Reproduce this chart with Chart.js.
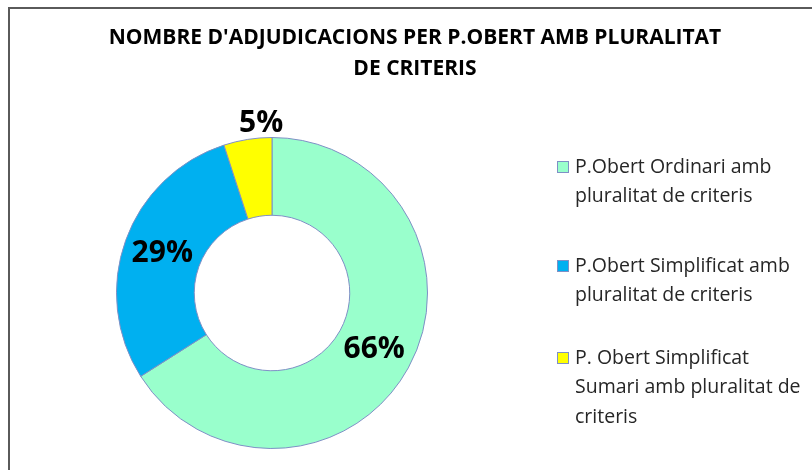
<!DOCTYPE html>
<html>
<head>
<meta charset="utf-8">
<script src="https://cdn.jsdelivr.net/npm/chart.js@4"></script>
<style>
  body { margin: 0; background: #fff; }
  canvas { display: block; }
</style>
</head>
<body>
<canvas id="adjudicacions" width="812" height="470"></canvas>
<script>
// data
const titleLines = ["NOMBRE D'ADJUDICACIONS PER P.OBERT AMB PLURALITAT", 'DE CRITERIS'];
const categories = [
    ['P.Obert Ordinari amb', 'pluralitat de criteris'],
    ['P.Obert Simplificat amb', 'pluralitat de criteris'],
    ['P. Obert Simplificat', 'Sumari amb pluralitat de', 'criteris']
];
const percentages = [66, 29, 5];

// frame, title and legend drawn straight on the canvas
const decorPlugin = {
    id: 'decor',
    beforeDraw(chart) {
        const ctx = chart.ctx;
        ctx.save();
        ctx.fillStyle = '#fff';
        ctx.fillRect(0, 0, chart.width, chart.height);
        ctx.strokeStyle = '#5a5a5a';
        ctx.lineWidth = 2;
        ctx.beginPath();
        ctx.moveTo(9, chart.height);
        ctx.lineTo(9, 8);
        ctx.lineTo(chart.width, 8);
        ctx.stroke();

        ctx.fillStyle = '#000';
        ctx.font = 'bold 21px "Open Sans"';
        ctx.textAlign = 'center';
        ctx.textBaseline = 'middle';
        ctx.fillText(titleLines[0], 415, 38, 632);
        ctx.fillText(titleLines[1], 415, 69);
        ctx.restore();
    },
    afterDraw(chart) {
        const ctx = chart.ctx;
        const ds = chart.data.datasets[0];
        const tops = [167, 266, 358];
        ctx.save();
        ctx.font = '19.5px "Open Sans"';
        ctx.textBaseline = 'middle';
        ctx.textAlign = 'left';
        categories.forEach((lines, i) => {
            const y = tops[i];
            ctx.fillStyle = ds.backgroundColor[i];
            ctx.fillRect(557, y - 6, 11, 11);
            ctx.strokeStyle = ds.borderColor;
            ctx.lineWidth = 1;
            ctx.strokeRect(557.5, y - 5.5, 11, 11);
            ctx.fillStyle = '#262626';
            lines.forEach((line, j) => {
                ctx.fillText(line, 575, y + j * 29.5);
            });
        });
        ctx.restore();
    }
};

const labelPlugin = {
    id: 'pctLabels',
    afterDatasetsDraw(chart) {
        const ctx = chart.ctx;
        const meta = chart.getDatasetMeta(0);
        ctx.save();
        ctx.font = 'bold 30px "Open Sans"';
        ctx.fillStyle = '#000';
        meta.data.forEach((arc, i) => {
            const text = percentages[i] + '%';
            if (percentages[i] < 10) {
                const mid = (arc.startAngle + arc.endAngle) / 2;
                const px = arc.x + Math.cos(mid) * (arc.outerRadius + 4);
                const py = arc.y + Math.sin(mid) * (arc.outerRadius + 4);
                ctx.textAlign = 'left';
                ctx.textBaseline = 'bottom';
                ctx.fillText(text, px - 8, py + 3);
            } else {
                const p = arc.tooltipPosition();
                ctx.textAlign = 'center';
                ctx.textBaseline = 'middle';
                ctx.fillText(text, p.x, p.y);
            }
        });
        ctx.restore();
    }
};

const ctx = document.querySelector('#adjudicacions').getContext('2d');
const donut = new Chart(ctx, {
    type: 'doughnut',
    data: {
        labels: categories,
        datasets: [{
            data: percentages,
            backgroundColor: ['#99FFCC', '#00B0F0', '#FFFF00'],
            borderColor: '#7f90c6',
            borderWidth: 1
        }]
    },
    options: {
        responsive: false,
        animation: false,
        cutout: '50%',
        layout: {
            padding: { left: 116, right: 384, top: 137, bottom: 21 }
        },
        plugins: {
            legend: { display: false },
            title: { display: false },
            tooltip: { enabled: false }
        }
    },
    plugins: [decorPlugin, labelPlugin]
});
</script>
</body>
</html>
